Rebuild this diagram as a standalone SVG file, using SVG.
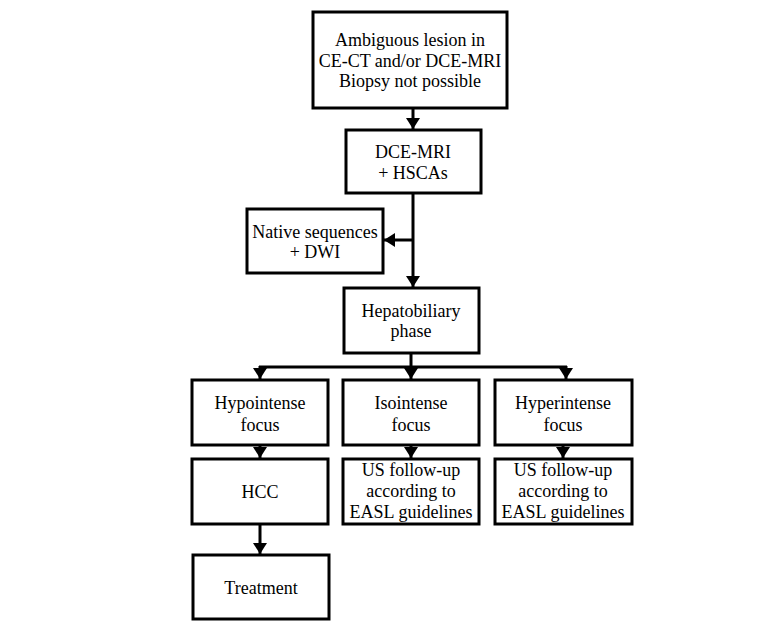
<svg xmlns="http://www.w3.org/2000/svg" width="764" height="625" viewBox="0 0 764 625">
<defs>
<style>
.box{fill:#fff;stroke:#000;stroke-width:3}
.t{font-family:"Liberation Serif","Times New Roman",serif;font-size:18px;fill:#000;text-anchor:middle}
.c{stroke:#000;stroke-width:3;fill:none}
</style>
<marker id="ah" viewBox="0 0 11 14" refX="11" refY="7" markerWidth="11" markerHeight="14" markerUnits="userSpaceOnUse" orient="auto">
<path d="M0,0 L11,7 L0,14 Z" fill="#000"/>
</marker>
</defs>
<rect width="764" height="625" fill="#fff"/>
<g id="connectors">
<line class="c" x1="413" y1="108" x2="413" y2="129" marker-end="url(#ah)"/>
<line class="c" x1="413" y1="193" x2="413" y2="287" marker-end="url(#ah)"/>
<line class="c" x1="413" y1="240" x2="384" y2="240" marker-end="url(#ah)"/>
<line class="c" x1="411" y1="353" x2="411" y2="367"/>
<line class="c" x1="259" y1="367" x2="567" y2="367"/>
<line class="c" x1="260" y1="366" x2="260" y2="379" marker-end="url(#ah)"/>
<line class="c" x1="411" y1="366" x2="411" y2="379" marker-end="url(#ah)"/>
<line class="c" x1="566" y1="366" x2="566" y2="379" marker-end="url(#ah)"/>
<line class="c" x1="260" y1="445" x2="260" y2="458" marker-end="url(#ah)"/>
<line class="c" x1="411" y1="445" x2="411" y2="458" marker-end="url(#ah)"/>
<line class="c" x1="563" y1="445" x2="563" y2="458" marker-end="url(#ah)"/>
<line class="c" x1="260" y1="524" x2="260" y2="554" marker-end="url(#ah)"/>
</g>
<g id="n1"><rect class="box" x="313" y="12" width="194" height="96"/>
<text class="t" x="410" y="46">Ambiguous lesion in</text>
<text class="t" x="410" y="67">CE-CT and/or DCE-MRI</text>
<text class="t" x="410" y="87">Biopsy not possible</text></g>
<g id="n2"><rect class="box" x="346" y="130" width="135" height="63"/>
<text class="t" x="413" y="158">DCE-MRI</text>
<text class="t" x="413" y="179">+ HSCAs</text></g>
<g id="n3"><rect class="box" x="247" y="209" width="136" height="64"/>
<text class="t" x="315" y="238">Native sequences</text>
<text class="t" x="315" y="258">+ DWI</text></g>
<g id="n4"><rect class="box" x="344" y="288" width="135" height="65"/>
<text class="t" x="411" y="317">Hepatobiliary</text>
<text class="t" x="411" y="337">phase</text></g>
<g id="n5"><rect class="box" x="192" y="380" width="136" height="65"/>
<text class="t" x="260" y="409">Hypointense</text>
<text class="t" x="260" y="431">focus</text></g>
<g id="n6"><rect class="box" x="343" y="380" width="136" height="65"/>
<text class="t" x="411" y="409">Isointense</text>
<text class="t" x="411" y="431">focus</text></g>
<g id="n7"><rect class="box" x="495" y="380" width="137" height="65"/>
<text class="t" x="563" y="409">Hyperintense</text>
<text class="t" x="563" y="431">focus</text></g>
<g id="n8"><rect class="box" x="192" y="459" width="136" height="65"/>
<text class="t" x="260" y="498">HCC</text></g>
<g id="n9"><rect class="box" x="343" y="459" width="136" height="65"/>
<text class="t" x="411" y="476">US follow-up</text>
<text class="t" x="411" y="497">according to</text>
<text class="t" x="411" y="518">EASL guidelines</text></g>
<g id="n10"><rect class="box" x="495" y="459" width="137" height="65"/>
<text class="t" x="563" y="476">US follow-up</text>
<text class="t" x="563" y="497">according to</text>
<text class="t" x="563" y="518">EASL guidelines</text></g>
<g id="n11"><rect class="box" x="193" y="555" width="136" height="64"/>
<text class="t" x="261" y="594">Treatment</text></g>
</svg>
